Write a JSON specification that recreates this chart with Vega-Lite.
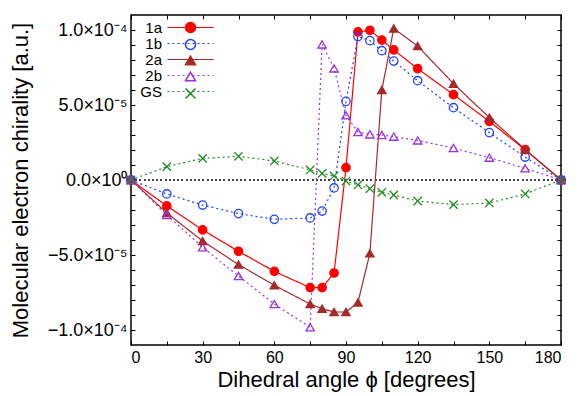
{
  "$schema": "https://vega.github.io/schema/vega-lite/v6.json",
  "width": 430,
  "height": 330,
  "autosize": "none",
  "padding": {"left": 131, "top": 15, "right": 27, "bottom": 51},
  "background": "white",
  "config": {
    "font": "Liberation Sans",
    "view": {"stroke": "#000", "strokeWidth": 1.5},
    "axis": {"grid": false, "domain": false, "tickColor": "#000", "labelColor": "#000", "titleColor": "#000", "titleFontWeight": "normal", "titleFont": "Liberation Sans", "labelFont": "Liberation Sans"}
  },
  "data": {
    "values": [
      {"s": "1a", "x": 0, "y": 0}, {"s": "1a", "x": 15, "y": -1.73e-5}, {"s": "1a", "x": 30, "y": -3.33e-5}, {"s": "1a", "x": 45, "y": -4.75e-5}, {"s": "1a", "x": 60, "y": -6.09e-5}, {"s": "1a", "x": 75, "y": -7.18e-5}, {"s": "1a", "x": 80, "y": -7.18e-5}, {"s": "1a", "x": 85, "y": -6.2e-5}, {"s": "1a", "x": 90, "y": 0.82e-5}, {"s": "1a", "x": 95, "y": 9.87e-5}, {"s": "1a", "x": 100, "y": 9.98e-5}, {"s": "1a", "x": 105, "y": 9.33e-5}, {"s": "1a", "x": 110, "y": 8.67e-5}, {"s": "1a", "x": 120, "y": 7.42e-5}, {"s": "1a", "x": 135, "y": 5.69e-5}, {"s": "1a", "x": 150, "y": 3.91e-5}, {"s": "1a", "x": 165, "y": 2.02e-5}, {"s": "1a", "x": 180, "y": 0},
      {"s": "1b", "x": 0, "y": 0}, {"s": "1b", "x": 15, "y": -0.93e-5}, {"s": "1b", "x": 30, "y": -1.67e-5}, {"s": "1b", "x": 45, "y": -2.24e-5}, {"s": "1b", "x": 60, "y": -2.62e-5}, {"s": "1b", "x": 75, "y": -2.53e-5}, {"s": "1b", "x": 80, "y": -2.07e-5}, {"s": "1b", "x": 85, "y": -0.53e-5}, {"s": "1b", "x": 90, "y": 5.24e-5}, {"s": "1b", "x": 95, "y": 9.56e-5}, {"s": "1b", "x": 100, "y": 9.29e-5}, {"s": "1b", "x": 105, "y": 8.62e-5}, {"s": "1b", "x": 110, "y": 7.93e-5}, {"s": "1b", "x": 120, "y": 6.62e-5}, {"s": "1b", "x": 135, "y": 4.82e-5}, {"s": "1b", "x": 150, "y": 3.16e-5}, {"s": "1b", "x": 165, "y": 1.53e-5}, {"s": "1b", "x": 180, "y": 0},
      {"s": "2a", "x": 0, "y": 0}, {"s": "2a", "x": 15, "y": -2.2e-5}, {"s": "2a", "x": 30, "y": -4.07e-5}, {"s": "2a", "x": 45, "y": -5.64e-5}, {"s": "2a", "x": 60, "y": -7.02e-5}, {"s": "2a", "x": 75, "y": -8.27e-5}, {"s": "2a", "x": 80, "y": -8.58e-5}, {"s": "2a", "x": 85, "y": -8.8e-5}, {"s": "2a", "x": 90, "y": -8.8e-5}, {"s": "2a", "x": 95, "y": -8.16e-5}, {"s": "2a", "x": 100, "y": -4.89e-5}, {"s": "2a", "x": 105, "y": 6.0e-5}, {"s": "2a", "x": 110, "y": 1.01e-4}, {"s": "2a", "x": 120, "y": 8.93e-5}, {"s": "2a", "x": 135, "y": 6.42e-5}, {"s": "2a", "x": 150, "y": 4.16e-5}, {"s": "2a", "x": 165, "y": 2.04e-5}, {"s": "2a", "x": 180, "y": 0},
      {"s": "2b", "x": 0, "y": 0}, {"s": "2b", "x": 15, "y": -2.33e-5}, {"s": "2b", "x": 30, "y": -4.49e-5}, {"s": "2b", "x": 45, "y": -6.4e-5}, {"s": "2b", "x": 60, "y": -8.27e-5}, {"s": "2b", "x": 75, "y": -9.82e-5}, {"s": "2b", "x": 80, "y": 9.04e-5}, {"s": "2b", "x": 85, "y": 7.44e-5}, {"s": "2b", "x": 90, "y": 4.31e-5}, {"s": "2b", "x": 95, "y": 3.2e-5}, {"s": "2b", "x": 100, "y": 3.04e-5}, {"s": "2b", "x": 105, "y": 3.0e-5}, {"s": "2b", "x": 110, "y": 2.89e-5}, {"s": "2b", "x": 120, "y": 2.64e-5}, {"s": "2b", "x": 135, "y": 2.13e-5}, {"s": "2b", "x": 150, "y": 1.49e-5}, {"s": "2b", "x": 165, "y": 0.78e-5}, {"s": "2b", "x": 180, "y": 0},
      {"s": "GS", "x": 0, "y": 0}, {"s": "GS", "x": 15, "y": 0.89e-5}, {"s": "GS", "x": 30, "y": 1.44e-5}, {"s": "GS", "x": 45, "y": 1.58e-5}, {"s": "GS", "x": 60, "y": 1.27e-5}, {"s": "GS", "x": 75, "y": 0.67e-5}, {"s": "GS", "x": 80, "y": 0.44e-5}, {"s": "GS", "x": 85, "y": 0.27e-5}, {"s": "GS", "x": 90, "y": -0.07e-5}, {"s": "GS", "x": 95, "y": -0.33e-5}, {"s": "GS", "x": 100, "y": -0.58e-5}, {"s": "GS", "x": 105, "y": -0.82e-5}, {"s": "GS", "x": 110, "y": -1.0e-5}, {"s": "GS", "x": 120, "y": -1.4e-5}, {"s": "GS", "x": 135, "y": -1.64e-5}, {"s": "GS", "x": 150, "y": -1.53e-5}, {"s": "GS", "x": 165, "y": -0.93e-5}, {"s": "GS", "x": 180, "y": 0}
    ]
  },
  "resolve": {"axis": {"x": "independent", "y": "independent"}},
  "layer": [
    {
      "mark": {"type": "rule", "stroke": "#444", "strokeWidth": 0.8, "strokeDash": [1.2, 3]},
      "encoding": {"y": {"datum": 0, "type": "quantitative", "axis": null}}
    },
    {
      "mark": {"type": "line", "strokeWidth": 1.2},
      "encoding": {
        "x": {"field": "x", "type": "quantitative", "scale": {"domain": [0, 180], "nice": false},
          "axis": {"orient": "bottom", "values": [0, 15, 30, 45, 60, 75, 90, 105, 120, 135, 150, 165, 180], "labelExpr": "datum.value % 30 == 0 ? datum.label : ''", "tickSize": -4, "labelFontSize": 16, "labelPadding": 8, "title": "Dihedral angle ϕ [degrees]", "titleFontSize": 22, "titlePadding": 4}},
        "y": {"field": "y", "type": "quantitative", "scale": {"domain": [-0.00011, 0.00011], "nice": false, "zero": false},
          "axis": {"orient": "left", "values": [-0.0001, -0.00009, -0.00008, -0.00007, -0.00006, -0.00005, -0.00004, -0.00003, -0.00002, -0.00001, 0, 0.00001, 0.00002, 0.00003, 0.00004, 0.00005, 0.00006, 0.00007, 0.00008, 0.00009, 0.0001],
            "labelExpr": "abs(datum.value-0.0001)<1e-7 ? '1.0×10⁻⁴' : abs(datum.value-0.00005)<1e-7 ? '5.0×10⁻⁵' : abs(datum.value)<1e-7 ? '0.0×10⁰' : abs(datum.value+0.00005)<1e-7 ? '−5.0×10⁻⁵' : abs(datum.value+0.0001)<1e-7 ? '−1.0×10⁻⁴' : ''",
            "tickSize": -4, "labelFontSize": 18, "labelPadding": 8, "title": "Molecular electron chirality [a.u.]", "titleFontSize": 22, "titleX": -99}},
        "stroke": {"field": "s", "type": "nominal", "scale": {"domain": ["1a", "1b", "2a", "2b", "GS"], "range": ["#ff0000", "#2040ff", "#a52a2a", "#9b30e0", "#228b22"]},
          "legend": {"orient": "none", "legendX": 52, "legendY": 5, "title": null, "padding": 0, "symbolType": "M-5.5,0L5.5,0", "symbolSize": 70, "symbolStrokeWidth": 1.2, "labelAlign": "right", "labelOffset": -36, "labelFontSize": 15, "labelColor": "#000", "rowPadding": 0}},
        "strokeDash": {"field": "s", "type": "nominal", "scale": {"domain": ["1a", "1b", "2a", "2b", "GS"], "range": [[1, 0], [2, 3], [1, 0], [2, 3], [2, 3]]},
          "legend": {"orient": "none", "legendX": 52, "legendY": 5, "title": null, "padding": 0, "symbolType": "M-5.5,0L5.5,0", "symbolSize": 70, "symbolStrokeWidth": 1.2, "labelAlign": "right", "labelOffset": -36, "labelFontSize": 15, "labelColor": "#000", "rowPadding": 0}}
      }
    },
    {
      "mark": {"type": "point", "filled": false, "size": 70, "strokeWidth": 1.3, "opacity": 1},
      "encoding": {
        "x": {"field": "x", "type": "quantitative",
          "axis": {"orient": "top", "values": [0, 15, 30, 45, 60, 75, 90, 105, 120, 135, 150, 165, 180], "labels": false, "tickSize": -4, "title": null}},
        "y": {"field": "y", "type": "quantitative",
          "axis": {"orient": "right", "values": [-0.0001, -0.00009, -0.00008, -0.00007, -0.00006, -0.00005, -0.00004, -0.00003, -0.00002, -0.00001, 0, 0.00001, 0.00002, 0.00003, 0.00004, 0.00005, 0.00006, 0.00007, 0.00008, 0.00009, 0.0001], "labels": false, "tickSize": -4, "title": null}},
        "color": {"field": "s", "type": "nominal", "scale": {"range": ["#ff0000", "#2040ff", "#a52a2a", "#9b30e0", "#228b22"]},
          "legend": {"orient": "none", "legendX": 52, "legendY": 5, "title": null, "padding": 0, "labelOpacity": 0, "labelFontSize": 15, "rowPadding": 0}},
        "fill": {"field": "s", "type": "nominal", "scale": {"range": ["#ff0000", "transparent", "#a52a2a", "transparent", "transparent"]},
          "legend": {"orient": "none", "legendX": 52, "legendY": 5, "title": null, "padding": 0, "labelOpacity": 0, "labelFontSize": 15, "rowPadding": 0}},
        "shape": {"field": "s", "type": "nominal", "scale": {"range": ["circle", "circle", "triangle-up", "triangle-up", "M-1,-1L1,1M-1,1L1,-1"]},
          "legend": {"orient": "none", "legendX": 52, "legendY": 5, "title": null, "padding": 0, "labelOpacity": 0, "labelFontSize": 15, "rowPadding": 0}}
      }
    }
  ]
}
